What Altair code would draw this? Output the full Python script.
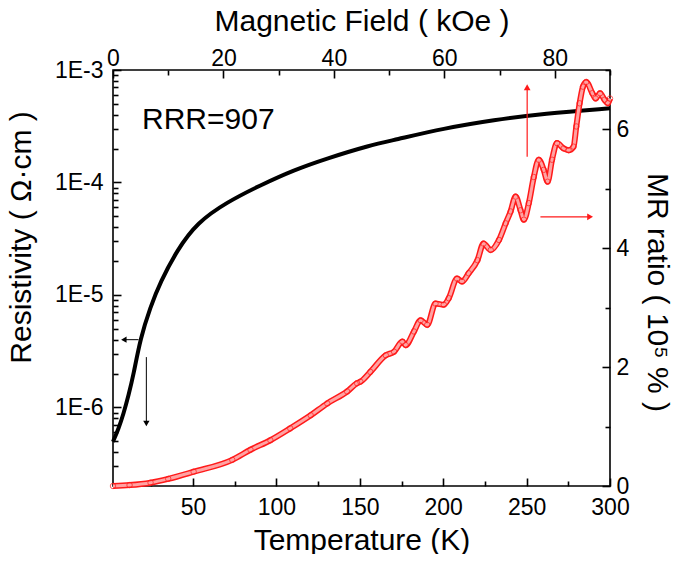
import altair as alt
import pandas as pd

# ---------------- data ----------------
# Resistivity vs temperature (black line, bottom/left axes)
temp_K = [2.0, 5.3, 8.3, 11.3, 14.3, 18.4, 24.4, 30.4, 40.4, 52.4, 70.4, 90.4,
          110.4, 130.4, 156.4, 170.4, 200.4, 230.4, 260.4, 300.0]
rho_ohm_cm = [4.95e-7, 6.45e-7, 8.77e-7, 1.28e-6, 1.95e-6, 4.1e-6, 7.8e-6, 1.3e-5,
              2.5e-5, 4.4e-5, 6.7e-5, 9.46e-5, 1.29e-4, 1.64e-4, 2.15e-4, 2.38e-4,
              3.03e-4, 3.59e-4, 4.11e-4, 4.56e-4]

# MR ratio vs magnetic field (red circles, top/right axes)
field_kOe = [0.0, 3.0, 6.8, 10.0, 14.6, 21.6, 24.9, 28.5, 32.1, 35.8, 38.8, 42.4, 44.2,
             44.8, 46.6, 49.4, 50.9, 52.4, 53.0, 54.5, 55.7, 56.9, 58.4, 59.9, 60.8,
             62.3, 63.2, 64.4, 66.0, 67.1, 68.4, 69.9, 71.1, 72.0, 72.9, 73.8, 74.4,
             75.3, 76.2, 77.1, 78.0, 78.7, 79.5, 80.4, 81.6, 82.5, 83.4, 83.9, 84.5,
             85.1, 85.7, 86.8, 87.4, 88.2, 89.0, 89.6, 90.0]
mr_ratio = [0.0, 0.015, 0.056, 0.12, 0.24, 0.44, 0.61, 0.77, 0.97, 1.19, 1.39, 1.59, 1.73,
            1.755, 1.92, 2.20, 2.26, 2.43, 2.37, 2.60, 2.79, 2.71, 3.07, 3.05, 3.16,
            3.49, 3.44, 3.58, 3.80, 4.08, 3.97, 4.14, 4.42, 4.62, 4.87, 4.64, 4.48,
            4.76, 5.20, 5.49, 5.32, 5.12, 5.49, 5.77, 5.68, 5.65, 5.71, 6.05, 6.44,
            6.72, 6.80, 6.61, 6.52, 6.61, 6.50, 6.44, 6.52]

# annotation
rrr_label = ["RRR=907"]
rrr_T = [19.4]
rrr_rho = [3.59e-4]

# black arrows (temperature / resistivity coordinates)
black_arrow_T = [17.3, 22.0]
black_arrow_T2 = [8.5, 22.0]
black_arrow_rho = [4.0e-6, 2.8e-6]
black_arrow_rho2 = [4.0e-6, 7.19e-7]
black_head_shape = ["triangle-left", "triangle-down"]

# red arrows (field / MR coordinates)
red_arrow_H = [75.0, 77.4]
red_arrow_H2 = [75.0, 86.4]
red_arrow_MR = [5.54, 4.53]
red_arrow_MR2 = [6.71, 4.53]
red_head_shape = ["triangle-up", "triangle-right"]

# axis tick values
T_major = [50, 100, 150, 200, 250, 300]
T_minor = [25, 75, 125, 175, 225, 275]
rho_major = [1e-6, 1e-5, 1e-4, 1e-3]
rho_minor = [m * 10.0 ** e for e in (-7, -6, -5, -4) for m in range(2, 10)]
H_major = [0, 20, 40, 60, 80]
H_minor = [10, 30, 50, 70, 90]
MR_major = [0, 2, 4, 6]
MR_minor = [1, 3, 5, 7]

# ---------------- chart ----------------
W, H = 497, 416
FONT = "Liberation Sans"
RED = "#ff1a1a"
MAJ, MIN = 8, 5

res_df = pd.DataFrame({"T": temp_K, "rho": rho_ohm_cm})
mr_df = pd.DataFrame({"H": field_kOe, "MR": mr_ratio})
rrr_df = pd.DataFrame({"T": rrr_T, "rho": rrr_rho, "label": rrr_label})
barrow_df = pd.DataFrame({"T": black_arrow_T, "T2": black_arrow_T2,
                          "rho": black_arrow_rho, "rho2": black_arrow_rho2,
                          "shape": black_head_shape})
rarrow_df = pd.DataFrame({"H": red_arrow_H, "H2": red_arrow_H2,
                          "MR": red_arrow_MR, "MR2": red_arrow_MR2,
                          "shape": red_head_shape})

sT = alt.Scale(domain=[2, 300], nice=False, zero=False)
sR = alt.Scale(type="log", domain=[2e-7, 1e-3], nice=False)
sH = alt.Scale(domain=[0, 90], nice=False, zero=False)
sM = alt.Scale(domain=[0, 7], nice=False, zero=False)

common = dict(domain=False, grid=False, tickColor="black", tickWidth=1.6,
              labelFont=FONT, labelFontSize=23, labelColor="black",
              labelFlush=False, labelOverlap=False, labelBound=False,
              titleFont=FONT, titleFontSize=30, titleFontWeight="normal",
              titleColor="black")
minor_common = dict(domain=False, grid=False, tickColor="black", tickWidth=1.6,
                    labels=False, title="", tickSize=MIN, offset=-MIN)

ax_bottom = alt.Axis(orient="bottom", values=T_major, tickSize=MAJ, offset=-MAJ,
                     labelPadding=10, title="Temperature (K)", titlePadding=6, **common)
ax_left = alt.Axis(orient="left", values=rho_major, tickSize=MAJ, offset=-MAJ,
                   labelPadding=10, labelExpr="'1E' + round(log(datum.value)/LN10)",
                   title="Resistivity ( Ω·cm )", titlePadding=18, titleY=167, **common)
ax_top = alt.Axis(orient="top", values=H_major, tickSize=MAJ, offset=-MAJ,
                  labelPadding=0, title="Magnetic Field ( kOe )", titlePadding=11, **common)
ax_right = alt.Axis(orient="right", values=MR_major, tickSize=MAJ, offset=-MAJ,
                    labelPadding=6, title="MR ratio ( 10⁵ % )", titlePadding=13,
                    titleY=222, **common)

res_line = alt.Chart(res_df).mark_line(color="black", strokeWidth=4, interpolate="basis").encode(
    x=alt.X("T:Q", scale=sT, axis=ax_bottom),
    y=alt.Y("rho:Q", scale=sR, axis=ax_left),
)
res_minor = alt.Chart(res_df).mark_line(opacity=0).encode(
    x=alt.X("T:Q", scale=sT, axis=alt.Axis(orient="bottom", values=T_minor, **minor_common)),
    y=alt.Y("rho:Q", scale=sR, axis=alt.Axis(orient="left", values=rho_minor, **minor_common)),
)

mr_outer = alt.Chart(mr_df).mark_line(color=RED, strokeWidth=6, interpolate="monotone").encode(
    x=alt.X("H:Q", scale=sH, axis=ax_top),
    y=alt.Y("MR:Q", scale=sM, axis=ax_right),
)
mr_inner = alt.Chart(mr_df).mark_line(color="white", strokeWidth=3, opacity=0.6,
                                      interpolate="monotone").encode(
    x=alt.X("H:Q", scale=sH, axis=None),
    y=alt.Y("MR:Q", scale=sM, axis=None),
)
mr_pts = alt.Chart(mr_df).mark_point(shape="circle", filled=False, color=RED, size=30,
                                     strokeWidth=1).encode(
    x=alt.X("H:Q", scale=sH, axis=None),
    y=alt.Y("MR:Q", scale=sM, axis=None),
)
mr_minor = alt.Chart(mr_df).mark_line(opacity=0).encode(
    x=alt.X("H:Q", scale=sH, axis=alt.Axis(orient="top", values=H_minor, **minor_common)),
    y=alt.Y("MR:Q", scale=sM, axis=alt.Axis(orient="right", values=MR_minor, **minor_common)),
)

rrr_text = alt.Chart(rrr_df).mark_text(align="left", baseline="middle", font=FONT,
                                       fontSize=30, color="black").encode(
    x=alt.X("T:Q", scale=sT, axis=None),
    y=alt.Y("rho:Q", scale=sR, axis=None),
    text="label:N",
)

b_rule = alt.Chart(barrow_df).mark_rule(color="black", strokeWidth=1).encode(
    x=alt.X("T:Q", scale=sT, axis=None), x2="T2:Q",
    y=alt.Y("rho:Q", scale=sR, axis=None), y2="rho2:Q",
)
b_head = alt.Chart(barrow_df).mark_point(filled=True, color="black", size=40, opacity=1).encode(
    x=alt.X("T2:Q", scale=sT, axis=None),
    y=alt.Y("rho2:Q", scale=sR, axis=None),
    shape=alt.Shape("shape:N", scale=None),
)
r_rule = alt.Chart(rarrow_df).mark_rule(color=RED, strokeWidth=1.2).encode(
    x=alt.X("H:Q", scale=sH, axis=None), x2="H2:Q",
    y=alt.Y("MR:Q", scale=sM, axis=None), y2="MR2:Q",
)
r_head = alt.Chart(rarrow_df).mark_point(filled=True, color=RED, size=45, opacity=1).encode(
    x=alt.X("H2:Q", scale=sH, axis=None),
    y=alt.Y("MR2:Q", scale=sM, axis=None),
    shape=alt.Shape("shape:N", scale=None),
)

chart = alt.layer(
    res_line, res_minor, mr_outer, mr_inner, mr_pts, mr_minor,
    rrr_text, b_rule, b_head, r_rule, r_head,
).resolve_scale(
    x="independent", y="independent", shape="independent"
).resolve_axis(
    x="independent", y="independent"
).properties(
    width=W, height=H,
    autosize=alt.AutoSizeParams(type="none"),
    padding={"left": 105, "top": 62, "right": 74, "bottom": 68},
).configure_view(
    stroke="black", strokeWidth=1.6
)

chart.save("out.html", embed_options={"renderer": "svg", "actions": False})
